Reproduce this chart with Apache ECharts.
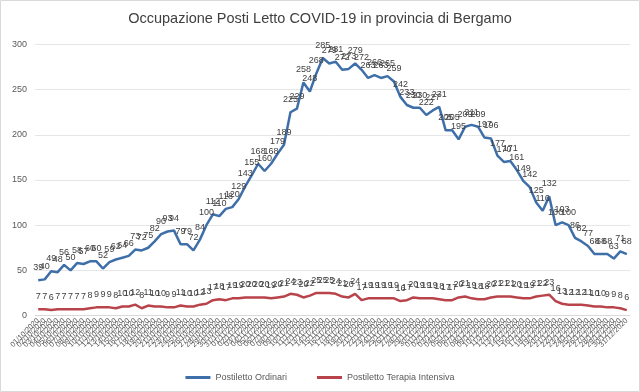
<!DOCTYPE html>
<html>
<head>
<meta charset="utf-8">
<script src="https://cdn.jsdelivr.net/npm/echarts@6/dist/echarts.min.js"></script>
<style>
html,body{margin:0;padding:0;background:#fff;}
#chart{width:640px;height:392px;}
</style>
</head>
<body>
<div id="chart"></div>
<script>
var titleText = "Occupazione Posti Letto COVID-19 in provincia di Bergamo";
var seriesNames = ["Postiletto Ordinari", "Postiletto Terapia Intensiva"];
var startDate = [2020, 9, 1]; // year, month index, day
var yTicks = [0, 50, 100, 150, 200, 250, 300];

var ordinari = [39,40,49,48,56,50,58,57,60,60,52,59,62,64,66,73,72,75,82,90,93,94,79,79,72,84,100,112,110,118,
  120,129,143,155,168,160,168,179,189,225,229,258,248,268,285,279,281,272,273,279,272,263,266,263,265,259,242,233,230,230,
  222,227,231,205,205,195,209,211,209,197,196,177,170,171,161,149,142,125,116,132,100,103,100,86,82,77,68,68,68,63,71,68];
var intensiva = [7,7,6,7,7,7,7,7,8,9,9,9,8,10,10,12,8,11,10,10,9,9,11,10,10,12,13,17,18,17,
  19,19,20,20,20,20,19,20,21,24,23,20,22,25,25,25,24,21,20,24,17,19,19,19,19,19,16,17,20,19,
  19,19,18,17,17,20,21,19,18,18,20,21,21,21,20,19,19,21,22,23,16,13,12,12,12,11,10,10,9,9,8,6];

function pad(n){return (n<10?'0':'')+n;}
var categories = [];
for (var i = 0; i < ordinari.length; i++) {
  var d = new Date(startDate[0], startDate[1], startDate[2] + i);
  categories.push(pad(d.getDate()) + '/' + pad(d.getMonth()+1) + '/' + d.getFullYear());
}

var chart = echarts.init(document.getElementById('chart'), null, {renderer:'canvas'});
var labelStyle = {show:true, position:'top', distance:8, fontSize:9, color:'#404040', fontFamily:'Liberation Sans'};
chart.setOption({
  animation:false,
  backgroundColor:'#fff',
  textStyle:{fontFamily:'Liberation Sans'},
  title:{text:titleText, left:'center', top:6, textStyle:{fontSize:14.5, fontWeight:'normal', color:'#404040', fontFamily:'Liberation Sans'}},
  graphic:[{type:'rect', shape:{x:0.5,y:0.5,width:639,height:391}, style:{fill:'none', stroke:'#d9d9d9', lineWidth:1}, silent:true}],
  grid:{left:35, right:10, top:44.5, bottom:76.5},
  legend:{bottom:5, left:'center', itemWidth:25, itemHeight:3, itemGap:30, icon:'rect',
    textStyle:{fontSize:9, color:'#595959'}, data:seriesNames},
  xAxis:{type:'category', data:categories, boundaryGap:true,
    axisLine:{lineStyle:{color:'#d9d9d9'}}, axisTick:{show:false},
    axisLabel:{interval:0, rotate:45, fontSize:7.5, color:'#595959', margin:4}},
  yAxis:{type:'value', min:yTicks[0], max:yTicks[yTicks.length-1], interval:50,
    axisLine:{show:false}, axisTick:{show:false},
    axisLabel:{fontSize:9, color:'#595959', margin:8},
    splitLine:{lineStyle:{color:'#e6e6e6'}}},
  series:[
    {name:seriesNames[0], type:'line', data:ordinari, symbol:'circle', symbolSize:0.1, showSymbol:true,
     itemStyle:{color:'#3f6fa9'}, lineStyle:{width:2.5, color:'#3f6fa9'}, label:labelStyle},
    {name:seriesNames[1], type:'line', data:intensiva, symbol:'circle', symbolSize:0.1, showSymbol:true,
     itemStyle:{color:'#b8434a'}, lineStyle:{width:2.5, color:'#b8434a'}, label:labelStyle}
  ]
});
</script>
</body>
</html>
